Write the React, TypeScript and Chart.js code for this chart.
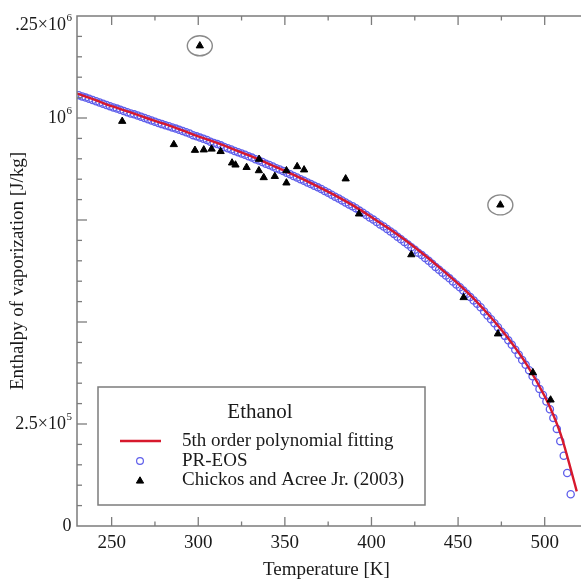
import React, { useEffect, useRef } from 'react';
import { Chart, registerables } from 'chart.js';

Chart.register(...registerables);

const FONT = '"Liberation Serif", "Times New Roman", Times, serif';

// Temperature axis ticks [K]
const xTickValues = [250, 300, 350, 400, 450, 500];
// Y axis labels (values in J/kg); "^" marks a superscript
const yTickValues = [0, 250000, 1000000, 1250000];
const yTickLabels = ['0', '2.5×10^5', '10^6', '.25×10^6'];

// 5th order polynomial fitting (red line), enthalpy in 10^6 J/kg
const fitT = [230, 240, 250, 260, 270, 280, 290, 300, 310, 320, 330, 340, 350, 360, 370, 380, 390, 400,
  410, 420, 430, 440, 450, 460, 470, 480, 490, 500, 505, 510, 515, 518.5];
const fitH = [1.060, 1.045, 1.029, 1.015, 1.000, 0.986, 0.971, 0.955, 0.940, 0.924, 0.907, 0.889, 0.870,
  0.851, 0.830, 0.808, 0.784, 0.757, 0.729, 0.699, 0.666, 0.631, 0.594, 0.553, 0.506, 0.454, 0.393, 0.318,
  0.272, 0.215, 0.140, 0.085];

// PR-EOS (blue open circles), enthalpy in 10^6 J/kg
const eosT = [231, 233, 235, 237, 239, 241, 243, 245, 247, 249, 251, 253, 255, 257, 259, 261, 263, 265, 267, 269,
  271, 273, 275, 277, 279, 281, 283, 285, 287, 289, 291, 293, 295, 297, 299, 301, 303, 305, 307, 309,
  311, 313, 315, 317, 319, 321, 323, 325, 327, 329, 331, 333, 335, 337, 339, 341, 343, 345, 347, 349,
  351, 353, 355, 357, 359, 361, 363, 365, 367, 369, 371, 373, 375, 377, 379, 381, 383, 385, 387, 389,
  391, 393, 395, 397, 399, 401, 403, 405, 407, 409, 411, 413, 415, 417, 419, 421, 423, 425, 427, 429,
  431, 433, 435, 437, 439, 441, 443, 445, 447, 449, 451, 453, 455, 457, 459, 461, 463, 465, 467, 469,
  471, 473, 475, 477, 479, 481, 483, 485, 487, 489, 491, 493, 495, 497, 499, 501, 503, 505, 507, 509,
  511, 513, 515];
const eosH = [1.056, 1.053, 1.050, 1.047, 1.044, 1.041, 1.038, 1.035, 1.032, 1.029, 1.026,
  1.023, 1.020, 1.017, 1.014, 1.011, 1.009, 1.006, 1.003, 1.000, 0.997,
  0.994, 0.991, 0.988, 0.985, 0.982, 0.980, 0.977, 0.974, 0.971, 0.968,
  0.965, 0.962, 0.958, 0.955, 0.952, 0.949, 0.946, 0.942, 0.939, 0.936,
  0.933, 0.929, 0.926, 0.923, 0.919, 0.916, 0.913, 0.910, 0.906, 0.903,
  0.899, 0.896, 0.892, 0.888, 0.885, 0.881, 0.877, 0.874, 0.870, 0.866,
  0.862, 0.858, 0.854, 0.850, 0.846, 0.842, 0.838, 0.834, 0.830, 0.826,
  0.821, 0.817, 0.812, 0.807, 0.803, 0.798, 0.793, 0.788, 0.784, 0.779,
  0.773, 0.768, 0.762, 0.756, 0.751, 0.745, 0.739, 0.734, 0.728, 0.722,
  0.716, 0.709, 0.703, 0.696, 0.690, 0.683, 0.677, 0.670, 0.664, 0.657,
  0.650, 0.643, 0.635, 0.628, 0.621, 0.614, 0.607, 0.599, 0.592, 0.585,
  0.577, 0.569, 0.561, 0.553, 0.545,
  0.536, 0.526, 0.516, 0.507, 0.497,
  0.487, 0.476, 0.466, 0.455, 0.444,
  0.432, 0.420, 0.407, 0.395, 0.382,
  0.367, 0.352, 0.336, 0.321, 0.305,
  0.286, 0.265, 0.238, 0.208, 0.172, 0.130, 0.078];

// Chickos and Acree Jr. (2003) (black triangles), enthalpy in 10^6 J/kg
const expT = [256.1, 285.9, 298.1, 303.2, 307.7, 312.9, 319.5, 321.5, 327.9, 335.1, 335.0, 337.8, 344.2,
  350.9, 350.9, 357.1, 361.1, 385.1, 392.8, 423.0, 453.2, 473.0, 493.2, 503.4];
const expH = [0.992, 0.935, 0.921, 0.922, 0.924, 0.918, 0.890, 0.885, 0.879, 0.899, 0.871, 0.854, 0.857,
  0.871, 0.841, 0.881, 0.873, 0.851, 0.765, 0.665, 0.560, 0.471, 0.376, 0.309];
// circled outliers of the same data set
const outlierT = [300.9, 474.4];
const outlierH = [1.177, 0.787];

const legendTitle = 'Ethanol';

const AXIS = '#7c7c7c';
const TEXT = '#1a1a1a';
const RED = 'rgb(215,25,45)';
const BLUE = 'rgb(95,95,235)';

function drawTriangle(ctx: CanvasRenderingContext2D, x: number, y: number, r: number) {
  ctx.beginPath();
  ctx.moveTo(x, y - r);
  ctx.lineTo(x + r * Math.sin(Math.PI / 3), y + r / 2);
  ctx.lineTo(x - r * Math.sin(Math.PI / 3), y + r / 2);
  ctx.closePath();
  ctx.fill();
  ctx.stroke();
}

const decorPlugin = {
  id: 'decor',
  afterDraw(chart: any) {
    const { ctx, chartArea: a, scales } = chart;
    const xs = scales.x;
    const ys = scales.y;
    const edge = chart.width + 2;
    ctx.save();
    // frame: top, left, bottom (the right side lies past the picture's edge)
    ctx.strokeStyle = AXIS;
    ctx.lineWidth = 1.5;
    ctx.beginPath();
    ctx.moveTo(edge, a.top);
    ctx.lineTo(a.left, a.top);
    ctx.lineTo(a.left, a.bottom);
    ctx.lineTo(edge, a.bottom);
    ctx.stroke();
    // x ticks (inward), major 50, minor 25
    ctx.lineWidth = 1.3;
    for (let t = 250; t <= 525; t += 25) {
      const px = xs.getPixelForValue(t);
      const len = t % 50 === 0 ? 9 : 4.5;
      ctx.beginPath();
      ctx.moveTo(px, a.bottom);
      ctx.lineTo(px, a.bottom - len);
      ctx.moveTo(px, a.top);
      ctx.lineTo(px, a.top + len);
      ctx.stroke();
    }
    // y ticks (inward), major 250000, minor 50000
    for (let v = 50000; v < 1250000; v += 50000) {
      const py = ys.getPixelForValue(v);
      const len = v % 250000 === 0 ? 10 : 5;
      ctx.beginPath();
      ctx.moveTo(a.left, py);
      ctx.lineTo(a.left + len, py);
      ctx.stroke();
    }
    // y tick labels with superscripts
    ctx.fillStyle = TEXT;
    ctx.textBaseline = 'middle';
    ctx.textAlign = 'right';
    yTickValues.forEach((v, i) => {
      let py = ys.getPixelForValue(v);
      py = Math.max(py, a.top + 9);
      const parts = yTickLabels[i].split('^');
      const xr = a.left - 5;
      let supW = 0;
      if (parts[1]) {
        ctx.font = `11px ${FONT}`;
        supW = ctx.measureText(parts[1]).width;
        ctx.fillText(parts[1], xr, py - 7);
      }
      ctx.font = `18px ${FONT}`;
      ctx.fillText(parts[0], xr - supW - 0.5, py);
    });
    // circles around outliers
    ctx.strokeStyle = '#8a8a8a';
    ctx.lineWidth = 1.4;
    outlierT.forEach((t, i) => {
      const cx = xs.getPixelForValue(t);
      const cy = ys.getPixelForValue(outlierH[i] * 1e6);
      ctx.beginPath();
      ctx.ellipse(cx, cy, 12.5, 10, 0, 0, Math.PI * 2);
      ctx.stroke();
    });
    // legend box
    const bx = a.left + 21;
    const by = a.top + 371;
    const bw = 327;
    const bh = 118;
    ctx.fillStyle = '#ffffff';
    ctx.fillRect(bx, by, bw, bh);
    ctx.strokeStyle = AXIS;
    ctx.lineWidth = 1.5;
    ctx.strokeRect(bx, by, bw, bh);
    ctx.fillStyle = TEXT;
    ctx.textAlign = 'center';
    ctx.font = `21px ${FONT}`;
    ctx.fillText(legendTitle, bx + 162, by + 25);
    ctx.textAlign = 'left';
    ctx.font = `19px ${FONT}`;
    const ds = chart.data.datasets;
    const rows = [54, 74, 93];
    const sx = bx + 42;
    ds.forEach((d: any, i: number) => {
      const ry = by + rows[i];
      if (d.showLine) {
        ctx.strokeStyle = d.borderColor;
        ctx.lineWidth = 2.4;
        ctx.beginPath();
        ctx.moveTo(sx - 20, ry);
        ctx.lineTo(sx + 21, ry);
        ctx.stroke();
      } else if (d.pointStyle === 'circle') {
        ctx.strokeStyle = d.borderColor;
        ctx.lineWidth = 1.2;
        ctx.beginPath();
        ctx.arc(sx, ry, 3.4, 0, Math.PI * 2);
        ctx.stroke();
      } else {
        ctx.fillStyle = '#000';
        ctx.strokeStyle = '#000';
        ctx.lineWidth = 1;
        drawTriangle(ctx, sx, ry + 1, 4.2);
      }
      ctx.fillStyle = TEXT;
      ctx.fillText(d.label, bx + 84, ry);
    });
    ctx.restore();
  },
};

export default function App() {
  const ref = useRef<HTMLCanvasElement>(null);
  useEffect(() => {
    document.documentElement.style.overflow = 'hidden';
    document.body.style.margin = '0';
    document.body.style.overflow = 'hidden';
    const canvas = ref.current;
    if (!canvas) return;
    const expPoints = expT.map((t, i) => ({ x: t, y: expH[i] * 1e6 }))
      .concat(outlierT.map((t, i) => ({ x: t, y: outlierH[i] * 1e6 })));
    const chart = new Chart(canvas, {
      type: 'scatter',
      data: {
        datasets: [
          {
            label: '5th order polynomial fitting',
            data: fitT.map((t, i) => ({ x: t, y: fitH[i] * 1e6 })),
            showLine: true,
            borderColor: RED,
            backgroundColor: RED,
            borderWidth: 2.4,
            pointRadius: 0,
            cubicInterpolationMode: 'monotone',
            clip: { left: 0, top: 0, right: 8, bottom: 0 },
            order: 1,
          } as any,
          {
            label: 'PR-EOS',
            data: eosT.map((t, i) => ({ x: t, y: eosH[i] * 1e6 })),
            showLine: false,
            pointStyle: 'circle',
            borderColor: BLUE,
            backgroundColor: 'rgba(0,0,0,0)',
            borderWidth: 1.3,
            pointRadius: 3.6,
            clip: { left: 0, top: 0, right: 8, bottom: 0 },
            order: 2,
          } as any,
          {
            label: 'Chickos and Acree Jr. (2003)',
            data: expPoints,
            showLine: false,
            pointStyle: 'triangle',
            borderColor: '#000',
            backgroundColor: '#000',
            borderWidth: 1,
            pointRadius: 4.2,
            order: 0,
          } as any,
        ],
      },
      options: {
        animation: false,
        responsive: false,
        devicePixelRatio: 1,
        layout: { padding: { top: 16, right: 0, left: 0, bottom: 0 } },
        plugins: { legend: { display: false }, tooltip: { enabled: false } },
        scales: {
          x: {
            type: 'linear',
            min: 230,
            max: 517.9,
            grid: { display: false, drawTicks: false },
            border: { display: false },
            afterBuildTicks: (s: any) => { s.ticks = xTickValues.map((v) => ({ value: v })); },
            afterFit: (s: any) => { s.height = 58; },
            ticks: {
              font: { family: FONT, size: 19 },
              color: TEXT,
              padding: 6,
              maxRotation: 0,
              autoSkip: false,
              callback: (v: any) => String(v),
            },
            title: {
              display: true,
              text: 'Temperature [K]',
              font: { family: FONT, size: 19 },
              color: TEXT,
              padding: { top: 0, bottom: 3 },
            },
          },
          y: {
            type: 'linear',
            min: 0,
            max: 1250000,
            grid: { display: false, drawTicks: false },
            border: { display: false },
            afterFit: (s: any) => { s.width = 77; },
            ticks: { display: false },
            title: {
              display: true,
              text: 'Enthalpy of vaporization [J/kg]',
              font: { family: FONT, size: 19 },
              color: TEXT,
              padding: { top: 7, bottom: 0 },
            },
          },
        },
      } as any,
      plugins: [decorPlugin],
    });
    return () => chart.destroy();
  }, []);
  return (
    <div style={{ width: 581, height: 584, overflow: 'hidden', position: 'relative', background: '#fff' }}>
      <canvas ref={ref} width={581} height={584} style={{ display: 'block', width: 581, height: 584 }} />
    </div>
  );
}
